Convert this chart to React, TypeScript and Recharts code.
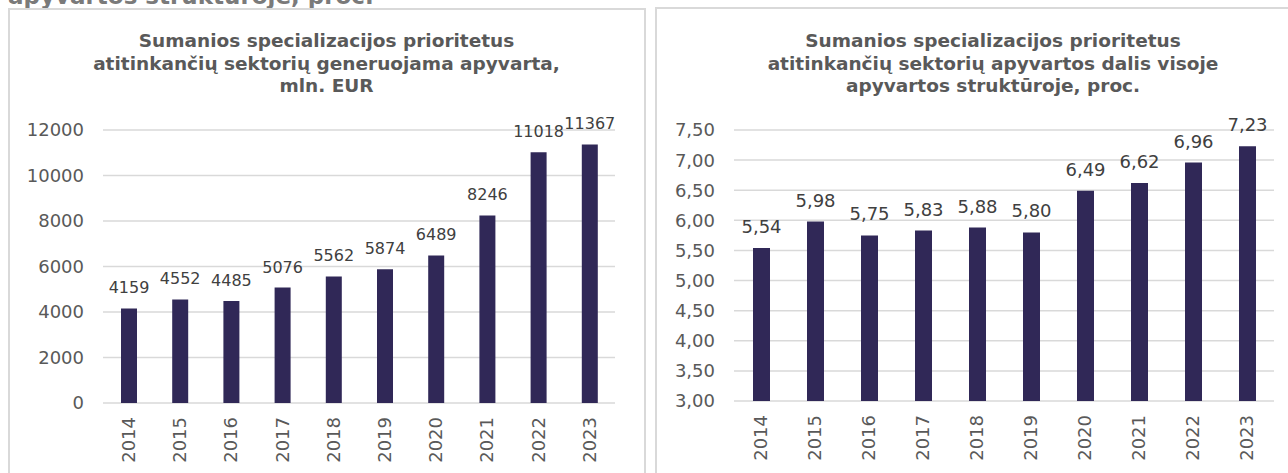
import React from 'react';
import { BarChart, Bar, XAxis, YAxis, CartesianGrid, LabelList } from 'recharts';

const years = ['2014', '2015', '2016', '2017', '2018', '2019', '2020', '2021', '2022', '2023'];
const turnover = [4159, 4552, 4485, 5076, 5562, 5874, 6489, 8246, 11018, 11367];
const share = [5.54, 5.98, 5.75, 5.83, 5.88, 5.8, 6.49, 6.62, 6.96, 7.23];
const turnoverTicks = [0, 2000, 4000, 6000, 8000, 10000, 12000];
const shareTicks = [3, 3.5, 4, 4.5, 5, 5.5, 6, 6.5, 7, 7.5];

const headingText = 'apyvartos struktūroje, proc.';
const leftTitle = ['Sumanios specializacijos prioritetus', 'atitinkančių sektorių generuojama apyvarta,', 'mln. EUR'];
const rightTitle = ['Sumanios specializacijos prioritetus', 'atitinkančių sektorių apyvartos dalis visoje', 'apyvartos struktūroje, proc.'];

const turnoverData = years.map((y, i) => ({ year: y, v: turnover[i] }));
const shareData = years.map((y, i) => ({ year: y, v: share[i] }));

const FONT = '"DejaVu Sans", Verdana, sans-serif';
const BAR = '#302857';
const GRID = '#d9d9d9';
const TICK = '#595959';
const LABEL = '#404040';

const fmtComma = (v: number) => v.toFixed(2).replace('.', ',');

const VTick = (props: any) => {
  const { x, y, payload } = props;
  return (
    <text
      x={x}
      y={y}
      transform={`rotate(-90 ${x} ${y})`}
      textAnchor="end"
      dy="0.36em"
      fill={TICK}
      fontSize={18}
      fontFamily={FONT}
    >
      {payload.value}
    </text>
  );
};

const Title = ({ lines, center }: { lines: string[]; center: number }) => (
  <div
    style={{
      position: 'absolute',
      left: center - 350,
      width: 700,
      top: 30,
      textAlign: 'center',
      fontFamily: FONT,
      fontWeight: 'bold',
      fontSize: 18.5,
      lineHeight: '22.5px',
      color: '#595959',
      whiteSpace: 'pre',
    }}
  >
    {lines.map((l, i) => (
      <div key={i}>{l}</div>
    ))}
  </div>
);

export default function App() {
  return (
    <div
      style={{
        position: 'absolute',
        left: 0,
        top: 0,
        width: 1288,
        height: 473,
        overflow: 'hidden',
        background: '#fff',
      }}
    >
      <div
        style={{
          position: 'absolute',
          left: 8,
          top: -16.5,
          fontFamily: FONT,
          fontWeight: 'bold',
          fontSize: 23,
          lineHeight: '24px',
          color: '#7a7a7a',
          whiteSpace: 'pre',
        }}
      >
        {headingText}
      </div>
      <div
        style={{
          position: 'absolute',
          left: 8,
          top: 8,
          width: 638,
          height: 520,
          border: '2px solid ' + GRID,
          boxSizing: 'border-box',
        }}
      />
      <div
        style={{
          position: 'absolute',
          left: 655,
          top: 7,
          width: 700,
          height: 520,
          border: '2px solid ' + GRID,
          boxSizing: 'border-box',
        }}
      />
      <Title lines={leftTitle} center={326.5} />
      <Title lines={rightTitle} center={993} />

      <div style={{ position: 'absolute', left: 0, top: 0 }}>
        <BarChart
          width={645}
          height={473}
          data={turnoverData}
          margin={{ top: 130, right: 30, bottom: 0, left: 0 }}
        >
          <CartesianGrid vertical={false} stroke={GRID} strokeWidth={1.5} />
          <XAxis
            dataKey="year"
            height={70}
            axisLine={false}
            tickLine={false}
            tickSize={0}
            tickMargin={14}
            interval={0}
            tick={<VTick />}
          />
          <YAxis
            width={103}
            domain={[0, 12000]}
            ticks={turnoverTicks}
            interval={0}
            axisLine={false}
            tickLine={false}
            tickSize={0}
            tickMargin={19}
            tick={{ fill: TICK, fontSize: 18, fontFamily: FONT }}
          />
          <Bar dataKey="v" fill={BAR} barSize={16} isAnimationActive={false}>
            <LabelList dataKey="v" position="top" offset={15} fill={LABEL} fontSize={16} fontFamily={FONT} />
          </Bar>
        </BarChart>
      </div>

      <div style={{ position: 'absolute', left: 645, top: 0 }}>
        <BarChart
          width={643}
          height={473}
          data={shareData}
          margin={{ top: 130, right: 14, bottom: 0, left: 0 }}
        >
          <CartesianGrid vertical={false} stroke={GRID} strokeWidth={1.5} />
          <XAxis
            dataKey="year"
            height={72}
            axisLine={false}
            tickLine={false}
            tickSize={0}
            tickMargin={14}
            interval={0}
            tick={<VTick />}
          />
          <YAxis
            width={89}
            domain={[3, 7.5]}
            ticks={shareTicks}
            interval={0}
            axisLine={false}
            tickLine={false}
            tickSize={0}
            tickMargin={19}
            tickFormatter={fmtComma}
            tick={{ fill: TICK, fontSize: 18, fontFamily: FONT }}
          />
          <Bar dataKey="v" fill={BAR} barSize={17} isAnimationActive={false}>
            <LabelList
              dataKey="v"
              position="top"
              offset={15}
              fill={LABEL}
              fontSize={18}
              fontFamily={FONT}
              formatter={(v: any) => fmtComma(Number(v))}
            />
          </Bar>
        </BarChart>
      </div>
    </div>
  );
}
